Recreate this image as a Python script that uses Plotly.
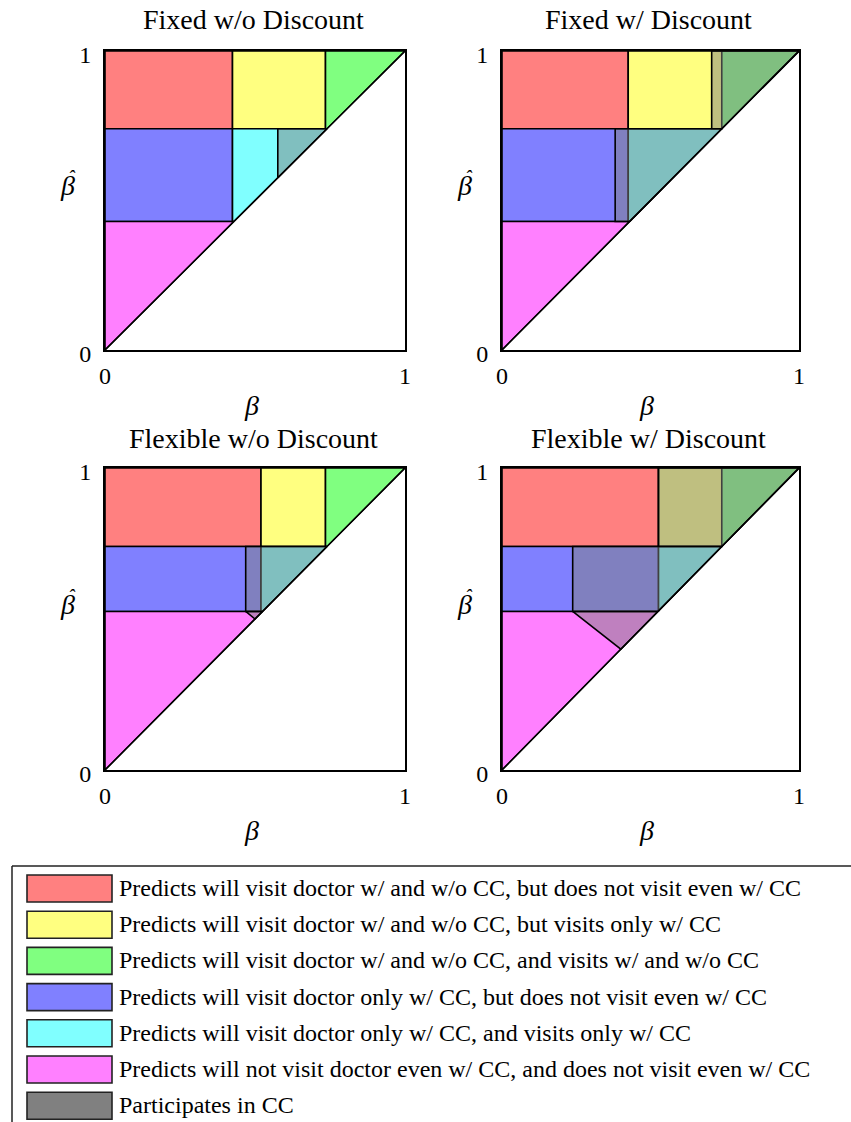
import plotly.graph_objects as go

W, H = 851, 1122
SERIF = "Liberation Serif, Times New Roman, serif"

# Panel titles
titles = ["Fixed w/o Discount", "Fixed w/ Discount",
          "Flexible w/o Discount", "Flexible w/ Discount"]

# Region cut-offs on each panel (beta on x, beta-hat on y)
hat_hi = [0.74, 0.74, 0.74, 0.74]      # predicts visit w/ and w/o CC above this
hat_lo = [0.43, 0.43, 0.525, 0.525]    # predicts visit only w/ CC above this
beta_cc = [0.425, 0.425, 0.52, 0.527]  # visits only w/ CC beyond this beta
beta_hi = [0.735, 0.74, 0.735, 0.74]   # visits w/ and w/o CC beyond this beta

# Participation in CC: beta cut-off per row, and diagonal tip of the lower wedge
cc_top = [None, 0.706, None, 0.527]
cc_mid = [0.576, 0.381, 0.469, 0.238]
cc_low = [None, None, 0.50, 0.40]

legend_labels = [
    "Predicts will visit doctor w/ and w/o CC, but does not visit even w/ CC",
    "Predicts will visit doctor w/ and w/o CC, but visits only w/ CC",
    "Predicts will visit doctor w/ and w/o CC, and visits w/ and w/o CC",
    "Predicts will visit doctor only w/ CC, but does not visit even w/ CC",
    "Predicts will visit doctor only w/ CC, and visits only w/ CC",
    "Predicts will not visit doctor even w/ CC, and does not visit even w/ CC",
    "Participates in CC",
]
legend_colors = ["#FF8080", "#FFFF80", "#80FF80", "#8080FF",
                 "#80FFFF", "#FF80FF", "#808080"]
RED, YELLOW, GREEN, BLUE, CYAN, PINK, GRAY = legend_colors
GRAY_OVERLAY = "rgba(128,128,128,0.5)"

# Panel frames in pixels: left, right, top, bottom
boxes = [(105, 405, 51, 350), (502, 799, 51, 350),
         (105, 405, 468, 770), (502, 799, 468, 770)]

# beta-hat: italic beta with a raised circumflex pulled back over it
BETA_HAT = ("<i><span style='letter-spacing:-7px'>β</span>"
            "<span style='font-size:19.6px;baseline-shift:11.8px'>ˆ</span></i>")


def clip_above_diag(pts):
    """Clip a polygon to the half plane beta-hat >= beta."""
    out = []
    n = len(pts)
    for i in range(n):
        cur, prev = pts[i], pts[i - 1]
        fc, fp = cur[1] - cur[0], prev[1] - prev[0]
        if fc >= 0:
            if fp < 0:
                t = fp / (fp - fc)
                out.append((prev[0] + t * (cur[0] - prev[0]),
                            prev[1] + t * (cur[1] - prev[1])))
            out.append(cur)
        elif fp >= 0:
            t = fp / (fp - fc)
            out.append((prev[0] + t * (cur[0] - prev[0]),
                        prev[1] + t * (cur[1] - prev[1])))
    clean = []
    for p in out:
        if not clean or abs(p[0] - clean[-1][0]) + abs(p[1] - clean[-1][1]) > 1e-9:
            clean.append(p)
    return clean


def rect(x0, x1, y0, y1):
    return clip_above_diag([(x0, y0), (x0, y1), (x1, y1), (x1, y0)])


fig = go.Figure()


def add_poly(pts, color, k):
    if len(pts) < 3:
        return
    xs = [p[0] for p in pts] + [pts[0][0]]
    ys = [p[1] for p in pts] + [pts[0][1]]
    fig.add_trace(go.Scatter(
        x=xs, y=ys, mode="lines", fill="toself", fillcolor=color,
        line=dict(color="black", width=1.6), hoverinfo="skip",
        showlegend=False, xaxis=f"x{k}", yaxis=f"y{k}"))


def px_x(v):
    return v / W


def px_y(v):
    return 1 - v / H


layout = {}
annotations = []
for i in range(4):
    k = i + 1
    hh, hl, bc, bh = hat_hi[i], hat_lo[i], beta_cc[i], beta_hi[i]

    # base regions
    add_poly(rect(0, bc, hh, 1), RED, k)
    add_poly(rect(bc, bh, hh, 1), YELLOW, k)
    add_poly(rect(bh, 1, hh, 1), GREEN, k)
    add_poly(rect(0, bc, hl, hh), BLUE, k)
    add_poly(rect(bc, 1, hl, hh), CYAN, k)
    add_poly(rect(0, 1, 0, hl), PINK, k)

    # CC participation overlays
    if cc_top[i] is not None:
        add_poly(rect(cc_top[i], 1, hh, 1), GRAY_OVERLAY, k)
    add_poly(rect(cc_mid[i], 1, hl, hh), GRAY_OVERLAY, k)
    if cc_low[i] is not None:
        add_poly([(cc_mid[i], hl), (hl, hl), (cc_low[i], cc_low[i])],
                 GRAY_OVERLAY, k)

    # diagonal beta-hat = beta
    fig.add_trace(go.Scatter(
        x=[0, 1], y=[0, 1], mode="lines",
        line=dict(color="black", width=1.2), hoverinfo="skip",
        showlegend=False, xaxis=f"x{k}", yaxis=f"y{k}"))

    left, right, top, bottom = boxes[i]
    ax = dict(range=[0, 1], showgrid=False, zeroline=False,
              showline=True, linecolor="black", linewidth=2, mirror=True,
              tickvals=[0, 1], ticktext=["0", "1"], ticks="", ticklen=0,
              tickfont=dict(family=SERIF, size=24, color="black"),
              automargin=False, fixedrange=True)
    sfx = "" if k == 1 else str(k)
    layout[f"xaxis{sfx}"] = dict(ax, domain=[px_x(left), px_x(right)],
                                 anchor=f"y{sfx}", ticklabelstandoff=3)
    layout[f"yaxis{sfx}"] = dict(ax, domain=[px_y(bottom), px_y(top)],
                                 anchor=f"x{sfx}", ticklabelstandoff=7,
                                 ticklabelshift=4)

    cx = (left + right) / 2
    upper_row = top < 100
    annotations.append(dict(
        text=titles[i], x=px_x(cx - 2), y=px_y(top - (31 if upper_row else 29)),
        xref="paper", yref="paper", showarrow=False,
        xanchor="center", yanchor="middle",
        font=dict(family=SERIF, size=28, color="black")))
    annotations.append(dict(
        text="<i>β</i>", x=px_x(cx - 4),
        y=px_y(bottom + (56 if upper_row else 60)),
        xref="paper", yref="paper", showarrow=False,
        xanchor="center", yanchor="middle",
        font=dict(family=SERIF, size=28, color="black")))
    ymid = (top + bottom) / 2
    annotations.append(dict(
        text=BETA_HAT, x=px_x(left - 37), y=px_y(ymid - 17),
        xref="paper", yref="paper", showarrow=False,
        xanchor="center", yanchor="middle",
        font=dict(family=SERIF, size=28, color="black")))

# legend panel: only its top and left borders fall inside the page
LEG_LEFT, LEG_TOP = 12, 866
shapes = [
    dict(type="line", xref="paper", yref="paper",
         x0=px_x(LEG_LEFT), x1=1, y0=px_y(LEG_TOP), y1=px_y(LEG_TOP),
         line=dict(color="#222222", width=1.5)),
    dict(type="line", xref="paper", yref="paper",
         x0=px_x(LEG_LEFT), x1=px_x(LEG_LEFT), y0=0, y1=px_y(LEG_TOP),
         line=dict(color="#222222", width=1.5)),
]
for j, (lab, col) in enumerate(zip(legend_labels, legend_colors)):
    top_px = 875 + j * 36.2
    shapes.append(dict(type="rect", xref="paper", yref="paper",
                       x0=px_x(27), x1=px_x(112),
                       y0=px_y(top_px + 27), y1=px_y(top_px),
                       line=dict(color="#222222", width=1.6), fillcolor=col))
    annotations.append(dict(
        text=lab, x=px_x(117), y=px_y(top_px + 13),
        xref="paper", yref="paper", showarrow=False,
        xanchor="left", yanchor="middle",
        font=dict(family=SERIF, size=24, color="black")))

fig.update_layout(
    width=W, height=H, autosize=False,
    margin=dict(l=0, r=0, t=0, b=0, pad=0, autoexpand=False),
    paper_bgcolor="white", plot_bgcolor="white",
    showlegend=False, annotations=annotations, shapes=shapes,
    **layout)

fig.write_html("out.html")
